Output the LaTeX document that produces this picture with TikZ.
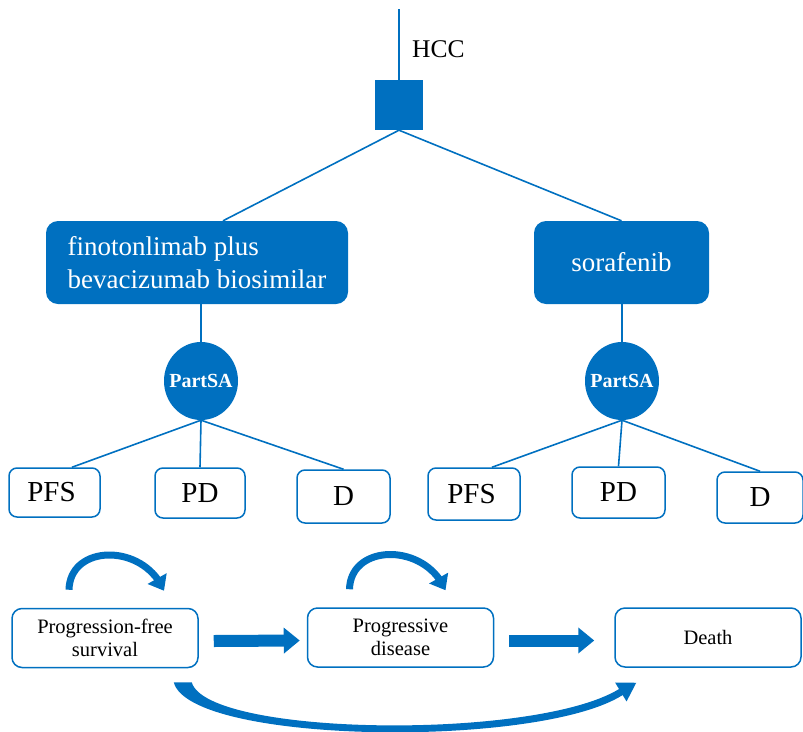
\documentclass[tikz,border=0pt]{standalone}
\usepackage{fontspec}
\setmainfont{Liberation Serif}
\usetikzlibrary{shapes.geometric,arrows.meta,calc,bending}
\definecolor{mblue}{RGB}{0,112,192}
\begin{document}
\begin{tikzpicture}[x=1pt,y=-1pt,
  link/.style={draw=mblue, line width=1.6pt},
  trtbox/.style={fill=mblue, rounded corners=12pt, text=white, font=\fontsize{27}{33}\selectfont, inner sep=0pt, minimum height=83pt},
  partsa/.style={ellipse, fill=mblue, text=white, font=\bfseries\fontsize{20}{24}\selectfont, minimum width=74pt, minimum height=78pt, inner sep=0pt},
  outbox/.style={draw=mblue, line width=1.5pt, rounded corners=8pt, fill=white, font=\fontsize{29}{32}\selectfont, inner sep=0pt, minimum height=50pt, minimum width=91pt},
  statebox/.style={draw=mblue, line width=1.5pt, rounded corners=10pt, minimum width=186pt, minimum height=59pt, align=center, font=\fontsize{20.5}{23}\selectfont, inner sep=0pt},
  fatarrow/.style={draw=mblue, line width=12pt, -{Triangle[length=16pt,width=25pt]}},
  selfloop/.style={draw=mblue, line width=7pt, -{Triangle[length=14pt,width=21pt,flex]}},
  bigarc/.style={fill=mblue},
]
\useasboundingbox (0,0) rectangle (803,731);

% root
\coordinate (top) at (399,9);
\node[fill=mblue, minimum width=48pt, minimum height=50pt, inner sep=0pt] (sq) at (399,105) {};
\node[font=\fontsize{25.5}{30}\selectfont, anchor=base west, inner sep=0pt] (hcc) at (412,57) {HCC};
\draw[link] (top) -- (sq.north);

% treatments
\node[trtbox, minimum width=302pt, align=left] (t1) at (197,262.5) {finotonlimab plus\\bevacizumab biosimilar};
\node[trtbox, minimum width=175pt] (t2) at (621.5,262.5) {sorafenib};
\draw[link] (sq.south) -- ([xshift=26pt]t1.north);
\draw[link] (sq.south) -- (t2.north);

% PartSA
\node[partsa] (p1) at (201,381) {\raisebox{-5pt}{\makebox[0pt]{PartSA}}};
\node[partsa] (p2) at (622,381) {\raisebox{-5pt}{\makebox[0pt]{PartSA}}};
\draw[link] (p1.north |- t1.south) -- (p1.north);
\draw[link] (p2.north |- t2.south) -- (p2.north);

% outcome boxes
\node[outbox, minimum height=49pt] (lpfs) at (54.5,492.5) {PFS\hspace*{6pt}};
\node[outbox, minimum width=90pt] (lpd) at (200,493) {PD};
\node[outbox, minimum width=93pt, minimum height=53pt] (ld) at (343.5,496.5) {D};
\node[outbox, minimum width=92pt, minimum height=52pt] (rpfs) at (474,494) {PFS\hspace*{5pt}};
\node[outbox, minimum width=93pt, minimum height=51pt] (rpd) at (618.5,492.5) {PD};
\node[outbox, minimum width=86pt, minimum height=51pt] (rd) at (760,497.5) {D};

\draw[link] (p1.south) -- ([xshift=17.5pt]lpfs.north);
\draw[link] (p1.south) -- (lpd.north);
\draw[link] (p1.south) -- (ld.north);
\draw[link] (p2.south) -- ([xshift=18pt]rpfs.north);
\draw[link] (p2.south) -- (rpd.north);
\draw[link] (p2.south) -- (rd.north);

% state diagram
\node[statebox] (s1) at (105,638) {Progression-free\\survival};
\node[statebox] (s2) at (400.5,637.5) {Progressive\\disease};
\node[statebox] (s3) at (708,637.5) {Death};

\draw[fatarrow] ([xshift=15pt,yshift=-3pt]s1.east) -- ([xshift=-7pt,yshift=-3pt]s2.west);
\draw[fatarrow] ([xshift=15pt,yshift=-3pt]s2.east) -- ([xshift=-20pt,yshift=-3pt]s3.west);

\coordinate (l1a) at ($(s1.north)+(-36,-18)$);
\coordinate (l1b) at ($(s1.north)+(59,-17)$);
\coordinate (l2a) at ($(s2.north)+(-51,-18)$);
\coordinate (l2b) at ($(s2.north)+(45,-17)$);
\draw[selfloop] (l1a) .. controls ($(l1a)+(1,-46)$) and ($(l1b)+(-20,-48)$) .. (l1b);
\draw[selfloop] (l2a) .. controls ($(l2a)+(1,-46)$) and ($(l2b)+(-20,-48)$) .. (l2b);

% tapered arc PFS -> Death
\coordinate (ba) at ($(s1.south east)+(-16,14)$);
\coordinate (bb) at ($(s3.south west)+(22,15)$);
\path[bigarc] ($(ba)+(-9,0)$) .. controls ($(ba)+(7,62)$) and ($(bb)+(-98,66)$) .. ($(bb)+(-13.6,12.3)$)
  -- ($(bb)+(-9.7,18.7)$) -- (bb) -- ($(bb)+(-21.1,-0.1)$) -- ($(bb)+(-17.2,6.3)$)
  .. controls ($(bb)+(-102,58)$) and ($(ba)+(24,54)$) .. ($(ba)+(9,0)$) -- cycle;
\end{tikzpicture}
\end{document}
